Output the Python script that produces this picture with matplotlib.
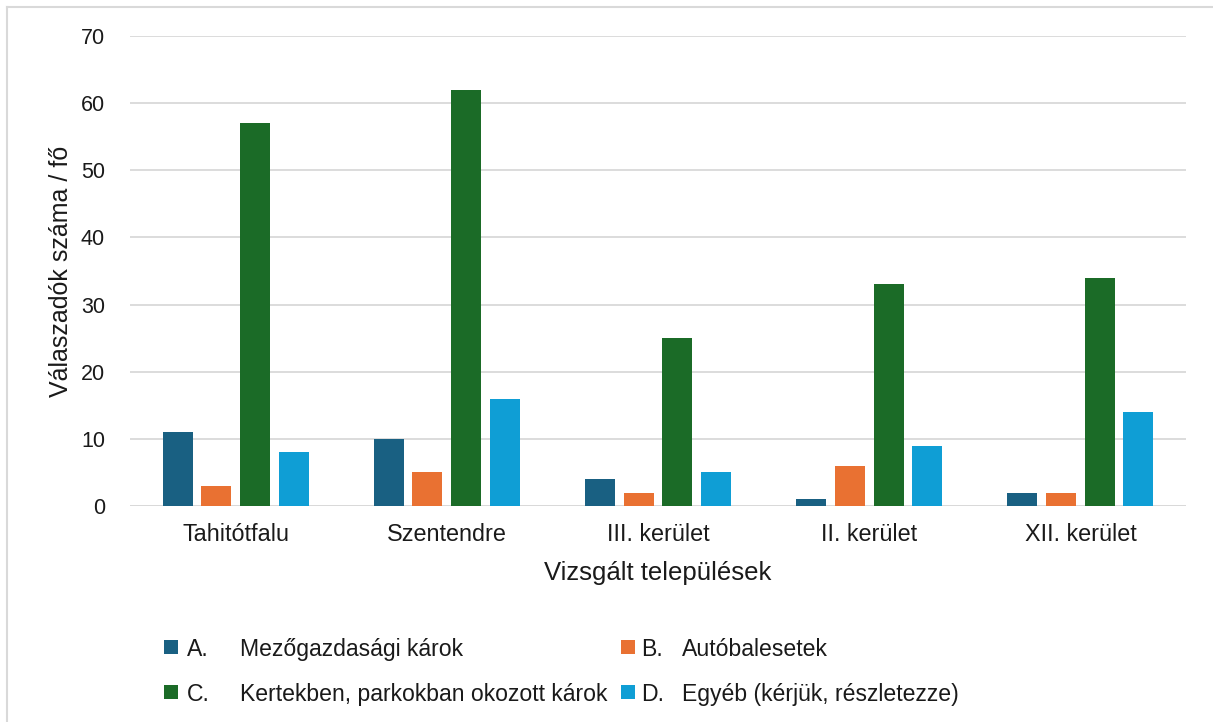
import matplotlib
matplotlib.use("Agg")
import matplotlib.pyplot as plt
import numpy as np
from matplotlib.lines import Line2D
from matplotlib.patches import Rectangle

categories = ["Tahitótfalu", "Szentendre", "III. kerület", "II. kerület", "XII. kerület"]
series_letters = ["A.", "B.", "C.", "D."]
series_labels = ["Mezőgazdasági károk",
                 "Autóbalesetek",
                 "Kertekben, parkokban okozott károk",
                 "Egyéb (kérjük, részletezze)"]
vals_a = [11, 10, 4, 1, 2]
vals_b = [3, 5, 2, 6, 2]
vals_c = [57, 62, 25, 33, 34]
vals_d = [8, 16, 5, 9, 14]
colors = ["#196082", "#E97132", "#1B6B27", "#0F9ED5"]
yticks = [0, 10, 20, 30, 40, 50, 60, 70]

plt.rcParams['font.family'] = ['Liberation Sans', 'DejaVu Sans']

W, H = 1213, 722
fig = plt.figure(figsize=(W / 100, H / 100), dpi=100)
ax = fig.add_axes([130 / W, 1 - 506 / H, (1186 - 130) / W, (506 - 36) / H])

x = np.arange(len(categories))
pitch = 0.183
width = 0.142
series = [vals_a, vals_b, vals_c, vals_d]
for i, (vals, c) in enumerate(zip(series, colors)):
    ax.bar(x + (i - 1.5) * pitch, vals, width=width, color=c,
           label=f"{series_letters[i]} {series_labels[i]}", zorder=3)

ax.set_xlim(-0.5, 4.5)
ax.set_ylim(0, 70)
ax.set_yticks(yticks)
ax.set_xticks(x)
ax.set_xticklabels(categories, fontsize=16.8, color="#1a1a1a")
ax.tick_params(axis='y', labelsize=15.5, colors="#1a1a1a", length=0, pad=18)
ax.tick_params(axis='x', length=0, pad=12)
ax.grid(axis='y', color="#D9D9D9", linewidth=1.3, zorder=0)
for s in ax.spines.values():
    s.set_visible(False)
ax.axhline(0, color="#D9D9D9", linewidth=1.3, zorder=2)
ax.set_ylabel("Válaszadók száma / fő", fontsize=18, color="#1a1a1a", labelpad=6)
ax.set_xlabel("Vizsgált települések", fontsize=18.5, color="#1a1a1a", labelpad=11)

# legend drawn at fixed positions, row-wise (A, B / C, D)
marker_x = [164, 621]
letter_x = [187, 641]
text_x = [240, 682]
row_y = [647, 692]
for i in range(4):
    r, col = i // 2, i % 2
    yc = row_y[r]
    fig.add_artist(Rectangle((marker_x[col] / W, 1 - (yc + 7) / H), 14 / W, 14 / H,
                             transform=fig.transFigure, color=colors[i], lw=0))
    fig.text(letter_x[col] / W, 1 - yc / H, series_letters[i], fontsize=16.6,
             color="#1a1a1a", va='center_baseline', ha='left')
    fig.text(text_x[col] / W, 1 - yc / H, series_labels[i], fontsize=16.6,
             color="#1a1a1a", va='center_baseline', ha='left')

# outer frame (only top and left edges visible)
fig.add_artist(Line2D([7 / W, 7 / W], [0, 1 - 7 / H], transform=fig.transFigure, color="#D9D9D9", lw=1.5))
fig.add_artist(Line2D([7 / W, 1], [1 - 7 / H, 1 - 7 / H], transform=fig.transFigure, color="#D9D9D9", lw=1.5))

fig.savefig("out.png", dpi=100)
